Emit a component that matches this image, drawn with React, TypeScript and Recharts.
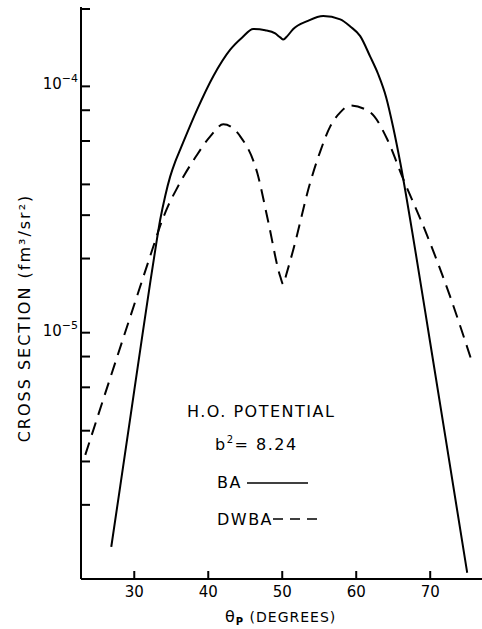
import React from "react";
import { LineChart, Line, XAxis, YAxis } from "recharts";

// theta_p (degrees) vs cross section (fm^3/sr^2)
const baAngles = [26.89, 28.11, 29.46, 30.81, 32.16, 32.84, 33.51, 34.19, 34.86, 35.54, 36.22, 38.51, 40.68, 42.97, 44.59, 46.08, 47.7, 49.05, 49.73, 50.14, 50.68, 51.49, 53.38, 55.54, 57.84, 59.19, 60.54, 61.89, 62.97, 64.05, 65.0, 65.95, 67.97, 70.0, 72.03, 75.0];
const baValues = [1.35e-6, 2.39e-6, 4.51e-6, 8.53e-6, 1.6e-5, 2.17e-5, 2.88e-5, 3.6e-5, 4.31e-5, 4.95e-5, 5.55e-5, 8.07e-5, 1.1e-4, 1.41e-4, 1.58e-4, 1.71e-4, 1.69e-4, 1.64e-4, 1.58e-4, 1.55e-4, 1.6e-4, 1.71e-4, 1.84e-4, 1.93e-4, 1.87e-4, 1.75e-4, 1.6e-4, 1.32e-4, 1.12e-4, 9.02e-5, 6.81e-5, 4.91e-5, 2.17e-5, 9.1e-6, 3.81e-6, 1.06e-6];

const dwbaAngles = [23.38, 26.76, 30.14, 32.43, 33.51, 34.59, 35.68, 36.89, 38.24, 40.27, 42.03, 44.32, 46.62, 48.11, 49.73, 50.14, 50.54, 51.49, 53.78, 55.14, 56.49, 57.84, 59.19, 61.89, 64.19, 66.22, 69.59, 72.7, 75.68];
const dwbaValues = [3.19e-6, 6.56e-6, 1.34e-5, 2.17e-5, 2.72e-5, 3.28e-5, 3.81e-5, 4.43e-5, 5.14e-5, 6.27e-5, 7.01e-5, 6.27e-5, 4.46e-5, 2.82e-5, 1.69e-5, 1.57e-5, 1.72e-5, 2.17e-5, 4.07e-5, 5.45e-5, 6.88e-5, 7.84e-5, 8.37e-5, 7.84e-5, 6.1e-5, 4.3e-5, 2.48e-5, 1.4e-5, 7.55e-6];

const xTicks = [30, 40, 50, 60, 70];
const yTicks = [2e-6, 3e-6, 4e-6, 5e-6, 6e-6, 7e-6, 8e-6, 9e-6, 1e-5, 2e-5, 3e-5, 4e-5, 5e-5, 6e-5, 7e-5, 8e-5, 9e-5, 1e-4, 2.1e-4];
const yLabels: Record<string, string> = { "0.00001": "−5", "0.0001": "−4" };

const baData = baAngles.map((x, i) => ({ x, y: baValues[i] }));
const dwbaData = dwbaAngles.map((x, i) => ({ x, y: dwbaValues[i] }));

const FONT = "'DejaVu Sans', sans-serif";

const YTick = (props: any) => {
  const { x, y, payload } = props;
  const exp = yLabels[String(payload.value)];
  return (
    <g>
      <line x1={x} x2={x + 9} y1={y} y2={y} stroke="#000" strokeWidth={2} />
      {exp && (
        <text x={x - 3} y={y + 3} textAnchor="end" fontFamily={FONT} fontSize={15} fill="#000">
          <tspan>10</tspan>
          <tspan dy={-7} fontSize={11}>{exp}</tspan>
        </text>
      )}
    </g>
  );
};

const XTick = (props: any) => {
  const { x, y, payload } = props;
  return (
    <g>
      <line x1={x} x2={x} y1={y} y2={y - 8} stroke="#000" strokeWidth={2} />
      <text x={x} y={y + 18} textAnchor="middle" fontFamily={FONT} fontSize={15} fill="#000">
        {payload.value}
      </text>
    </g>
  );
};

export default function App() {
  return (
    <div style={{ position: "absolute", left: 0, top: 0, width: 482, height: 629, background: "#fff" }}>
      <LineChart width={482} height={629} margin={{ top: 7, right: 0, bottom: 0, left: 0 }}>
        <XAxis
          type="number"
          dataKey="x"
          domain={[22.8, 77]}
          allowDataOverflow
          ticks={xTicks}
          height={50}
          tickSize={0}
          tickMargin={0}
          tickLine={false}
          tick={<XTick />}
          axisLine={{ stroke: "#000", strokeWidth: 2 }}
        />
        <YAxis
          type="number"
          dataKey="y"
          scale="log"
          domain={[1e-6, 2.1e-4]}
          allowDataOverflow
          ticks={yTicks}
          width={81}
          tickSize={0}
          tickMargin={0}
          tickLine={false}
          tick={<YTick />}
          axisLine={{ stroke: "#000", strokeWidth: 2 }}
        />
        <Line data={baData} dataKey="y" type="monotone" stroke="#000" strokeWidth={2} dot={false} isAnimationActive={false} />
        <Line data={dwbaData} dataKey="y" type="monotone" stroke="#000" strokeWidth={2} strokeDasharray="13 8" dot={false} isAnimationActive={false} />
      </LineChart>
      <svg width={482} height={629} style={{ position: "absolute", left: 0, top: 0, pointerEvents: "none" }}>
        <text
          transform="translate(30 318) rotate(-90)"
          textAnchor="middle"
          fontFamily={FONT}
          fontSize={16}
          letterSpacing={2}
          fill="#000"
        >
          CROSS SECTION (fm³/sr²)
        </text>
        <text x={225} y={622} fontFamily={FONT} fontSize={14} letterSpacing={1} fill="#000">
          <tspan fontSize={16}>θ</tspan>
          <tspan dy={3} fontSize={10} fontWeight="bold">P</tspan>
          <tspan dy={-3}> (DEGREES)</tspan>
        </text>
        <g fontFamily={FONT} fill="#000">
          <text x={187} y={417} fontSize={16} letterSpacing={1.5}>H.O. POTENTIAL</text>
          <text x={215} y={450} fontSize={16} letterSpacing={1.5}>
            <tspan>b</tspan>
            <tspan dy={-7} fontSize={10}>2</tspan>
            <tspan dy={7}>= 8.24</tspan>
          </text>
          <text x={217} y={488} fontSize={16} letterSpacing={1.5}>BA</text>
          <line x1={247} x2={308} y1={483} y2={483} stroke="#000" strokeWidth={1.5} />
          <text x={217} y={525} fontSize={16} letterSpacing={1.5}>DWBA</text>
          <line x1={273} x2={317} y1={519} y2={519} stroke="#000" strokeWidth={1.5} strokeDasharray="10 7" />
        </g>
      </svg>
    </div>
  );
}
